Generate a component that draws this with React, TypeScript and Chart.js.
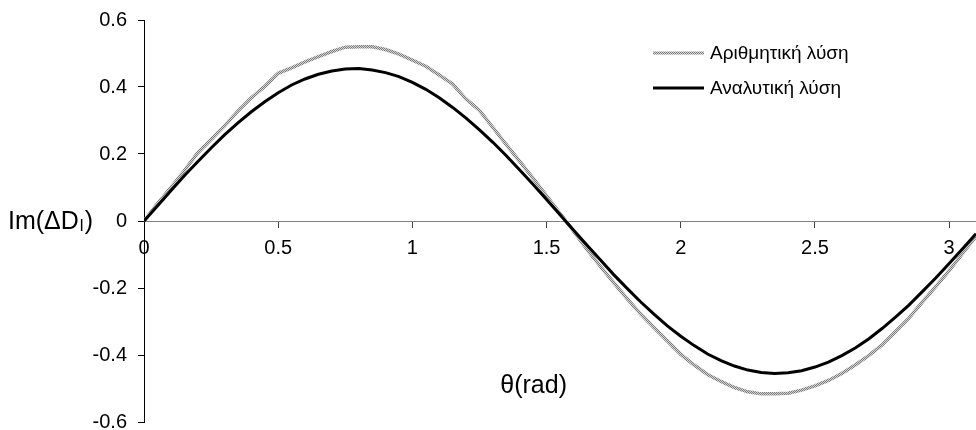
import React, { useEffect, useRef } from 'react';
import { Chart, registerables } from 'chart.js';

Chart.register(...registerables);

const theta = [
  0, 0.05, 0.1, 0.15, 0.2, 0.25, 0.3, 0.35, 0.4, 0.45, 0.5, 0.55, 0.6, 0.65, 0.7, 0.75,
  0.8, 0.85, 0.9, 0.95, 1.0, 1.05, 1.1, 1.15, 1.2, 1.25, 1.3, 1.35, 1.4, 1.45, 1.5, 1.55,
  1.6, 1.65, 1.7, 1.75, 1.8, 1.85, 1.9, 1.95, 2.0, 2.05, 2.1, 2.15, 2.2, 2.25, 2.3, 2.35,
  2.4, 2.45, 2.5, 2.55, 2.6, 2.65, 2.7, 2.75, 2.8, 2.85, 2.9, 2.95, 3.0, 3.05, 3.1, 3.15,
];

const numerical = [
  0, 0.052, 0.1, 0.15, 0.203, 0.243, 0.284, 0.328, 0.368, 0.402, 0.441, 0.457, 0.475, 0.491, 0.506, 0.519,
  0.52, 0.52, 0.512, 0.498, 0.48, 0.462, 0.436, 0.409, 0.364, 0.33, 0.279, 0.228, 0.178, 0.127, 0.075, 0.023,
  -0.03, -0.084, -0.135, -0.184, -0.232, -0.277, -0.318, -0.358, -0.398, -0.43, -0.458, -0.479, -0.497, -0.51, -0.516, -0.516,
  -0.514, -0.505, -0.492, -0.476, -0.455, -0.43, -0.402, -0.37, -0.33, -0.29, -0.242, -0.196, -0.148, -0.097, -0.046, 0.006,
];

const analytical = [
  0, 0.045, 0.09, 0.135, 0.177, 0.218, 0.257, 0.293, 0.326, 0.356, 0.383, 0.406, 0.424, 0.438, 0.448, 0.454,
  0.455, 0.451, 0.443, 0.431, 0.414, 0.393, 0.368, 0.339, 0.307, 0.272, 0.235, 0.195, 0.152, 0.109, 0.064, 0.019,
  -0.027, -0.072, -0.116, -0.16, -0.201, -0.241, -0.278, -0.313, -0.344, -0.372, -0.397, -0.417, -0.433, -0.445, -0.452, -0.455,
  -0.453, -0.447, -0.436, -0.421, -0.402, -0.379, -0.352, -0.321, -0.287, -0.251, -0.211, -0.17, -0.127, -0.083, -0.038, 0.008,
];

const xTicks = [0, 0.5, 1, 1.5, 2, 2.5, 3];
const yTicks = [-0.6, -0.4, -0.2, 0, 0.2, 0.4, 0.6];
const seriesNames = ['Αριθμητική λύση', 'Αναλυτική λύση'];
const xTitle = 'θ(rad)';
const yTitleMain = 'Im(ΔD';
const yTitleSub = 'l';
const yTitleEnd = ')';

const FONT = '"Liberation Sans", Arial, sans-serif';

export default function App() {
  const ref = useRef<HTMLCanvasElement>(null);

  useEffect(() => {
    const canvas = ref.current;
    if (!canvas) return;

    const pc = document.createElement('canvas');
    pc.width = 2;
    pc.height = 2;
    const pctx = pc.getContext('2d')!;
    pctx.fillStyle = '#d4d4d4';
    pctx.fillRect(0, 0, 2, 2);
    pctx.fillStyle = '#7c7c7c';
    pctx.fillRect(0, 0, 1, 1);
    pctx.fillRect(1, 1, 1, 1);
    const pattern = canvas.getContext('2d')!.createPattern(pc, 'repeat')!;

    const overlay = {
      id: 'overlay',
      afterDraw(chart: any) {
        const ctx = chart.ctx as CanvasRenderingContext2D;
        ctx.save();
        ctx.fillStyle = '#000';
        ctx.textAlign = 'left';
        ctx.textBaseline = 'alphabetic';
        // y title
        ctx.font = `25px ${FONT}`;
        let x = 8;
        const base = 229;
        ctx.fillText(yTitleMain, x, base);
        x += ctx.measureText(yTitleMain).width + 1;
        ctx.font = `17px ${FONT}`;
        ctx.fillText(yTitleSub, x, base + 2);
        x += ctx.measureText(yTitleSub).width + 1;
        ctx.font = `25px ${FONT}`;
        ctx.fillText(yTitleEnd, x, base);
        // x title
        ctx.font = `25px ${FONT}`;
        ctx.textAlign = 'right';
        ctx.fillText(xTitle, 567, 393);
        // legend
        const rows = [
          { y: 53, stroke: pattern as any, w: 3 },
          { y: 88, stroke: '#000', w: 3 },
        ];
        rows.forEach((r, i) => {
          ctx.beginPath();
          ctx.strokeStyle = r.stroke;
          ctx.lineWidth = r.w;
          ctx.moveTo(653, r.y);
          ctx.lineTo(704, r.y);
          ctx.stroke();
          ctx.font = `19px ${FONT}`;
          ctx.textAlign = 'left';
          ctx.textBaseline = 'middle';
          ctx.fillText(seriesNames[i], 710, r.y + 1);
        });
        ctx.restore();
      },
    };

    const chart = new Chart(canvas, {
      type: 'line',
      data: {
        datasets: [
          {
            label: seriesNames[1],
            data: theta.map((t, i) => ({ x: t, y: analytical[i] })),
            borderColor: '#000',
            borderWidth: 3,
            pointRadius: 0,
            tension: 0,
          },
          {
            label: seriesNames[0],
            data: theta.map((t, i) => ({ x: t, y: numerical[i] })),
            borderColor: pattern as any,
            borderWidth: 3.5,
            pointRadius: 0,
            tension: 0,
          },
        ],
      },
      options: {
        responsive: false,
        animation: false,
        events: [],
        layout: { padding: { top: 20, bottom: 8, left: 0, right: 0 } },
        plugins: { legend: { display: false }, tooltip: { enabled: false }, title: { display: false } },
        scales: {
          x: {
            type: 'linear',
            min: 0,
            max: 3.1,
            position: { y: 0 } as any,
            afterBuildTicks: (s: any) => {
              s.ticks = xTicks.map((v) => ({ value: v }));
            },
            afterFit: (s: any) => {
              s.paddingLeft = 0;
              s.paddingRight = 0;
              s.paddingTop = 0;
              s.paddingBottom = 0;
            },
            grid: { drawOnChartArea: false, drawTicks: true, tickLength: 6, color: '#444' },
            border: { color: '#808080', width: 1 },
            ticks: {
              color: '#000',
              font: { family: FONT, size: 20 },
              padding: 9,
              maxRotation: 0,
              autoSkip: false,
              callback: (v: any) => String(v),
            },
          },
          y: {
            type: 'linear',
            min: -0.6,
            max: 0.6,
            position: 'left',
            afterBuildTicks: (s: any) => {
              s.ticks = yTicks.map((v) => ({ value: v }));
            },
            afterFit: (s: any) => {
              s.width = 144;
              s.paddingLeft = 0;
              s.paddingRight = 0;
              s.paddingTop = 0;
              s.paddingBottom = 0;
            },
            grid: { drawOnChartArea: false, drawTicks: true, tickLength: 6, color: '#000' },
            border: { color: '#000', width: 1 },
            ticks: {
              color: '#000',
              font: { family: FONT, size: 20 },
              padding: 11,
              autoSkip: false,
              callback: (v: any) => String(Math.round(v * 10) / 10),
            },
          },
        },
      },
      plugins: [overlay],
    });

    return () => chart.destroy();
  }, []);

  return (
    <div style={{ position: 'absolute', left: 0, top: 0, width: 976, height: 430, background: '#fff' }}>
      <canvas ref={ref} width={976} height={430} style={{ display: 'block' }} />
    </div>
  );
}
